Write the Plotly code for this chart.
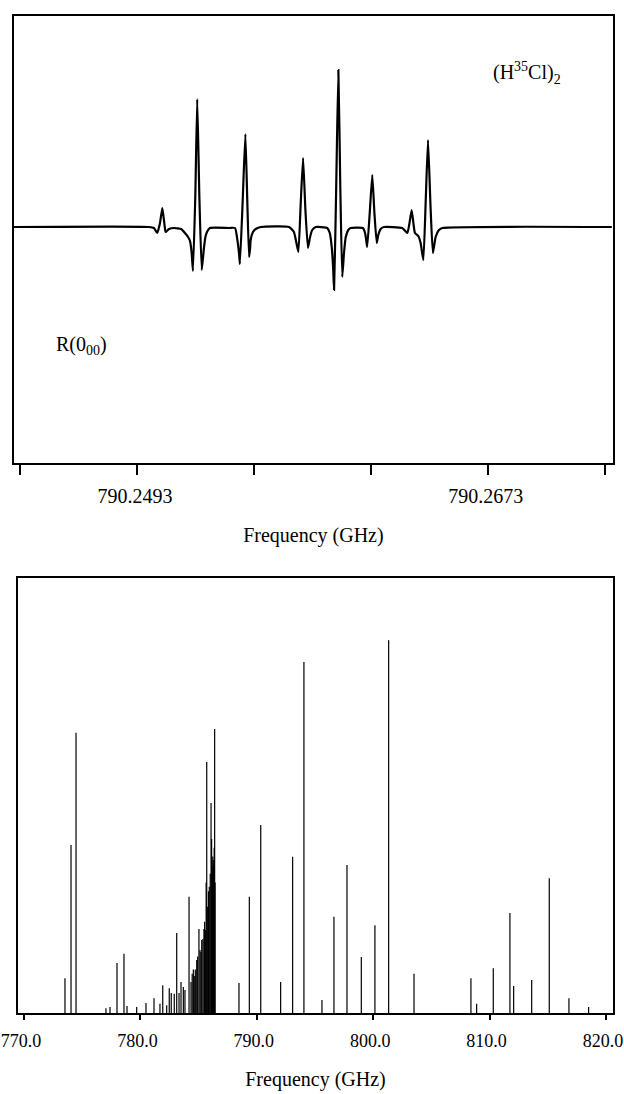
import plotly.graph_objects as go

# ---------------- top panel: recorded (H35Cl)2 R(0_00) trace ----------------
trace_freq = [
    790.24299,
    790.24992, 790.25017, 790.25034, 790.25048, 790.25060, 790.25070, 790.25077,
    790.25094, 790.25120,
    790.25156, 790.25176, 790.25192, 790.25202, 790.25210, 790.25217, 790.25229,
    790.25239, 790.25250, 790.25262, 790.25269, 790.25274, 790.25281, 790.25289,
    790.25304,
    790.25402,
    790.25433, 790.25445, 790.25451, 790.25455, 790.25458, 790.25472, 790.25486,
    790.25496, 790.25505, 790.25510, 790.25513, 790.25525, 790.25539, 790.25566,
    790.25710,
    790.25735, 790.25747, 790.25758, 790.25770, 790.25782, 790.25794, 790.25807,
    790.25818, 790.25829, 790.25847,
    790.25906, 790.25919, 790.25929, 790.25936, 790.25941, 790.25952, 790.25963,
    790.25973, 790.25983, 790.25992, 790.26001, 790.26014, 790.26026,
    790.26089, 790.26100, 790.26106, 790.26111, 790.26124, 790.26137, 790.26148,
    790.26160, 790.26168, 790.26180, 790.26197,
    790.26291, 790.26317, 790.26328, 790.26339, 790.26348, 790.26356, 790.26373,
    790.26385, 790.26399, 790.26411, 790.26423, 790.26436, 790.26448, 790.26462,
    790.26479, 790.26496,
    790.27366,
]
trace_signal = [
    0,
    0, -1, -6, 4, 19, 4, -5,
    -2, -1,
    -2, -6, -10, -14, -25, -44, 30,
    128, 30, -43, -30, -20, -10, -5,
    -1,
    -1,
    -1, -13, -22, -30, -37, 25, 93,
    25, -30, -22, -13, -5, -2, 0,
    0,
    -5, -15, -25, 24, 69, 17, -21,
    -10, -3, 0,
    -1, -6, -20, -40, -63, 40, 157,
    40, -50, -26, -10, -3, -1,
    -1, -6, -13, -20, 14, 52, 14,
    -16, -8, -2, 0,
    -1, -6, 4, 17, 4, -6, -9,
    -16, -33, 25, 87, 20, -26, -10,
    -3, -1,
    0,
]
top_tick_vals = [790.2493, 790.2673]
top_tick_text = ["790.2493", "790.2673"]
top_minor_tick_vals = [790.2433, 790.2553, 790.2613, 790.2733]

# ---------------- bottom panel: stick spectrum ----------------
stick_freq = [
    773.52, 774.04, 774.47, 777.04, 777.39, 777.99, 778.59, 778.85, 779.68,
    780.48, 781.17, 781.68, 781.92, 782.26, 782.48, 782.65, 782.91, 783.12,
    783.32, 783.49, 783.69, 783.83, 784.18, 784.35, 784.45, 784.55, 784.63,
    784.72, 784.84, 784.92, 785.03, 785.12, 785.20, 785.27, 785.37, 785.46,
    785.52, 785.58, 785.65, 785.70, 785.78, 785.85, 785.92, 786.00, 786.07,
    786.12, 786.18, 786.22, 786.26, 786.30, 786.34, 786.38, 786.42,
    788.47, 789.36, 790.34, 792.05, 793.08, 794.05, 795.60, 796.63, 797.75,
    798.98, 800.15, 801.33, 803.51, 808.40, 808.89, 810.32, 811.75, 812.07,
    813.62, 815.13, 816.82, 818.51,
]
stick_intensity = [
    8.0, 38.6, 64.4, 1.1, 1.4, 11.5, 13.6, 1.6, 1.4,
    2.3, 3.4, 2.1, 6.4, 1.8, 5.7, 4.6, 4.4, 18.4,
    4.6, 7.1, 6.0, 5.3, 26.7, 7.1, 9.0, 10.0, 8.5,
    10.0, 12.2, 13.0, 19.3, 14.5, 14.0, 16.8, 17.0, 19.3,
    21.0, 19.1, 30.0, 57.7, 24.4, 28.0, 29.0, 32.0, 48.3,
    40.0, 33.6, 36.0, 35.2, 34.0, 38.0, 65.3, 30.0,
    6.9, 26.7, 43.2, 7.1, 35.9, 80.7, 3.0, 22.1, 34.0,
    12.9, 20.2, 85.7, 9.0, 8.0, 2.1, 10.3, 23.0, 6.2,
    7.6, 31.0, 3.4, 1.4,
]
bottom_tick_vals = [770.0, 780.0, 790.0, 800.0, 810.0, 820.0]
bottom_tick_text = ["770.0", "780.0", "790.0", "800.0", "810.0", "820.0"]

# build stick segments from the data
sx, sy = [], []
for f, i in zip(stick_freq, stick_intensity):
    sx += [f, f, None]
    sy += [0, i, None]

FONT = "Liberation Serif"
W, H = 624, 1094

fig = go.Figure()
fig.add_trace(go.Scatter(
    x=trace_freq, y=trace_signal, mode="lines",
    line=dict(color="black", width=2.2, shape="spline", smoothing=0.45),
    xaxis="x", yaxis="y", showlegend=False, hoverinfo="skip",
))
fig.add_trace(go.Scatter(
    x=sx, y=sy, mode="lines",
    line=dict(color="black", width=1.2),
    xaxis="x2", yaxis="y2", showlegend=False, hoverinfo="skip",
))

axis_common = dict(showgrid=False, zeroline=False, showline=True, linecolor="black",
                   linewidth=1.5, mirror=True)

fig.update_layout(
    width=W, height=H,
    margin=dict(l=0, r=0, t=0, b=0, autoexpand=False),
    paper_bgcolor="white", plot_bgcolor="white",
    font=dict(family=FONT, size=20, color="black"),
    xaxis=dict(
        domain=[14 / W, 612.8 / W], anchor="y",
        range=[790.24299, 790.27371],
        tickmode="array", tickvals=top_tick_vals, ticktext=top_tick_text,
        ticks="outside", ticklen=10, tickwidth=1.5, tickcolor="black",
        minor=dict(tickmode="array", tickvals=top_minor_tick_vals, ticks="outside",
                   ticklen=10, tickwidth=1.5, tickcolor="black", showgrid=False),
        ticklabelstandoff=4, ticklabelshift=-2, ticklabeloverflow="allow",
        title=dict(text="Frequency (GHz)", standoff=22, font=dict(family=FONT, size=20)),
        **axis_common,
    ),
    yaxis=dict(
        domain=[1 - 463 / H, 1 - 16 / H], anchor="x",
        range=[-236, 211], showticklabels=False, ticks="",
        **axis_common,
    ),
    xaxis2=dict(
        domain=[18.3 / W, 612.7 / W], anchor="y2",
        range=[769.51, 820.58],
        tickmode="array", tickvals=bottom_tick_vals, ticktext=bottom_tick_text,
        ticks="outside", ticklen=5, tickwidth=1.5, tickcolor="black",
        tickfont=dict(family=FONT, size=18),
        ticklabelstandoff=6, ticklabelshift=-3, ticklabeloverflow="allow",
        title=dict(text="Frequency (GHz)", standoff=22, font=dict(family=FONT, size=20)),
        **axis_common,
    ),
    yaxis2=dict(
        domain=[1 - 1013 / H, 1 - 578 / H], anchor="x2",
        range=[0, 100], showticklabels=False, ticks="",
        **axis_common,
    ),
    annotations=[
        dict(text="(H<sup>35</sup>Cl)<sub>2</sub>", x=527 / W, y=1 - 73 / H,
             xref="paper", yref="paper", xanchor="center", yanchor="middle",
             showarrow=False, font=dict(family=FONT, size=20)),
        dict(text="R(0<sub>00</sub>)", x=81 / W, y=1 - 345 / H,
             xref="paper", yref="paper", xanchor="center", yanchor="middle",
             showarrow=False, font=dict(family=FONT, size=20)),
    ],
)

fig.write_html("out.html", config={"displayModeBar": False},
               post_script="document.body.style.margin='0px';")
